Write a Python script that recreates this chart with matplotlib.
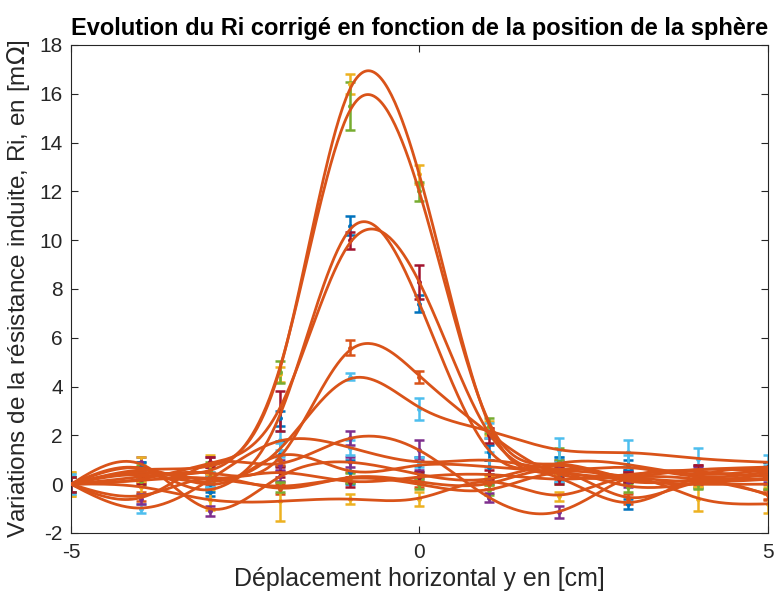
import numpy as np
import matplotlib
matplotlib.use("Agg")
import matplotlib.pyplot as plt

plt.rcParams['font.family'] = ['Liberation Sans', 'DejaVu Sans']
plt.rcParams['axes.unicode_minus'] = False

# positions of the sphere (cm)
x_pos = [-5, -4, -3, -2, -1, 0, 1, 2, 3, 4, 5]

# MATLAB default colour order, cycled over the series
colors = ['#0072BD', '#D95319', '#EDB120', '#7E2F8E', '#77AC30', '#4DBEEE', '#A2142F']
fit_color = '#D95319'

# corrected Ri variations (mOhm), one list per measurement
ri = [
    [0, 0.7, -0.3, 1.25, 0.5, 0.8, 0.7, 0.3, -0.8, 0.35, 0.6],
    [0, -0.5, 0.3, -0.2, 0.3, 0.1, 0.0, 0.6, -0.6, 0.1, -0.45],
    [0, -0.1, -0.65, -0.7, -0.6, -0.6, 0.15, -0.5, 0.3, -0.6, -0.8],
    [0, 0.9, -1.1, 0.35, 0.9, 0.4, 0.2, 0.8, 0.1, 0.2, 0.2],
    [0, 0.15, 0.25, -0.1, 0.25, 0.0, -0.25, 0.5, -0.1, 0.05, 0.4],
    [0, -1.0, 0.2, 1.8, 1.5, 0.9, 1.0, 0.6, 0.7, 0.3, 0.5],
    [0, 0.5, 0.2, 0.5, 0.1, 0.3, 0.4, 0.2, 0.4, 0.6, 0.7],
    [0, 0.7, 0.0, 2.7, 10.6, 7.4, 1.3, 0.9, 0.8, 0.4, 0.6],
    [0, 0.3, 0.5, 1.0, 5.6, 4.4, 2.1, 0.4, 0.3, 0.2, -0.4],
    [0, 0.6, 0.8, 4.5, 16.4, 12.7, 2.3, 0.6, 0.3, 0.1, 0.2],
    [0, -0.6, 0.9, 0.8, 1.9, 1.4, -0.55, -1.15, 0.3, 0.5, 0.3],
    [0, 0.5, 0.6, 4.6, 15.5, 12.0, 2.4, 0.9, 0.2, 0.0, 0.0],
    [0, 0.4, 0.1, 1.4, 4.4, 3.1, 2.2, 1.4, 1.3, 1.05, 0.9],
    [0, 0.2, 0.9, 3.0, 10.0, 8.3, 2.0, 0.5, 0.3, 0.6, 0.5],
]

# half error bars
err = [
    [0.3, 0.2, 0.2, 0.5, 0.5, 0.3, 0.3, 0.2, 0.2, 0.2, 0.3],
    [0.3, 0.2, 0.2, 0.2, 0.2, 0.2, 0.2, 0.2, 0.2, 0.2, 0.2],
    [0.5, 0.3, 0.4, 0.8, 0.2, 0.3, 0.2, 0.2, 0.2, 0.5, 0.4],
    [0.3, 0.2, 0.2, 0.2, 0.2, 0.2, 0.2, 0.2, 0.2, 0.2, 0.2],
    [0.3, 0.2, 0.2, 0.2, 0.2, 0.2, 0.2, 0.5, 0.2, 0.2, 0.2],
    [0.4, 0.2, 0.3, 0.4, 0.3, 0.2, 0.3, 0.5, 0.5, 0.45, 0.3],
    [0.3, 0.2, 0.2, 0.2, 0.2, 0.2, 0.2, 0.2, 0.2, 0.2, 0.2],
    [0.3, 0.2, 0.3, 0.3, 0.4, 0.35, 0.3, 0.2, 0.2, 0.2, 0.3],
    [0.3, 0.2, 0.2, 0.2, 0.3, 0.25, 0.2, 0.2, 0.2, 0.2, 0.2],
    [0.5, 0.5, 0.4, 0.3, 0.4, 0.4, 0.3, 0.2, 0.2, 0.2, 0.3],
    [0.3, 0.2, 0.2, 0.2, 0.3, 0.4, 0.2, 0.25, 0.2, 0.2, 0.2],
    [0.3, 0.3, 0.3, 0.45, 1.0, 0.4, 0.3, 0.6, 0.2, 0.2, 0.2],
    [0.4, 0.2, 0.2, 0.3, 0.15, 0.45, 0.3, 0.5, 0.5, 0.45, 0.3],
    [0.3, 0.2, 0.2, 0.8, 0.35, 0.7, 0.3, 0.2, 0.2, 0.2, 0.2],
]


def smoothing_fit(x, y, lam=0.004, step=0.025):
    # penalised least squares on a fine grid (approximate smoothing spline)
    grid = np.arange(x[0], x[-1] + step / 2, step)
    n = len(grid)
    W = np.zeros((len(x), n))
    for i, xi in enumerate(x):
        W[i, int(round((xi - grid[0]) / step))] = 1
    W[0, 0] = 50  # curves all start from zero at -5 cm
    D = np.zeros((n - 2, n))
    for k in range(n - 2):
        D[k, k:k + 3] = [1, -2, 1]
    D /= step ** 2
    A = W.T @ W + lam * step * D.T @ D
    yy = np.asarray(y, float).copy()
    yy[0] *= 50
    f = np.linalg.solve(A, W.T @ yy)
    return grid, f


fig = plt.figure(figsize=(7.77, 6.0), dpi=100)
ax = fig.add_axes([0.0914, 0.1117, 0.8966, 0.8133])

for i, (vals, e) in enumerate(zip(ri, err)):
    ax.errorbar(x_pos, vals, yerr=e, fmt='.', color=colors[i % 7],
                markersize=5, elinewidth=1.8, capsize=3.8, capthick=1.8, zorder=2)
    gx, gy = smoothing_fit(x_pos, vals)
    ax.plot(gx, gy, color=fit_color, lw=2, zorder=3)

ax.set_xlim(-5, 5)
ax.set_ylim(-2, 18)
ax.set_xticks([-5, 0, 5])
ax.set_yticks(np.arange(-2, 19, 2))
ax.tick_params(direction='in', top=True, right=True, labelsize=15, colors='#262626',
               length=5, width=0.8)
ax.tick_params(axis='y', pad=6)
ax.tick_params(axis='x', pad=7)
for s in ax.spines.values():
    s.set_color('#262626')
    s.set_linewidth(0.8)

ax.set_xlabel('Déplacement horizontal y en [cm]', fontsize=18, color='#262626', labelpad=4)
ax.set_ylabel('Variations de la résistance induite, Ri, en [m$\\Omega$]', fontsize=17.5,
              color='#262626', labelpad=5)
ax.set_title('Evolution du Ri corrigé en fonction de la position de la sphère',
             fontsize=17, fontweight='bold', pad=7)

fig.savefig('out.png', dpi=100)
